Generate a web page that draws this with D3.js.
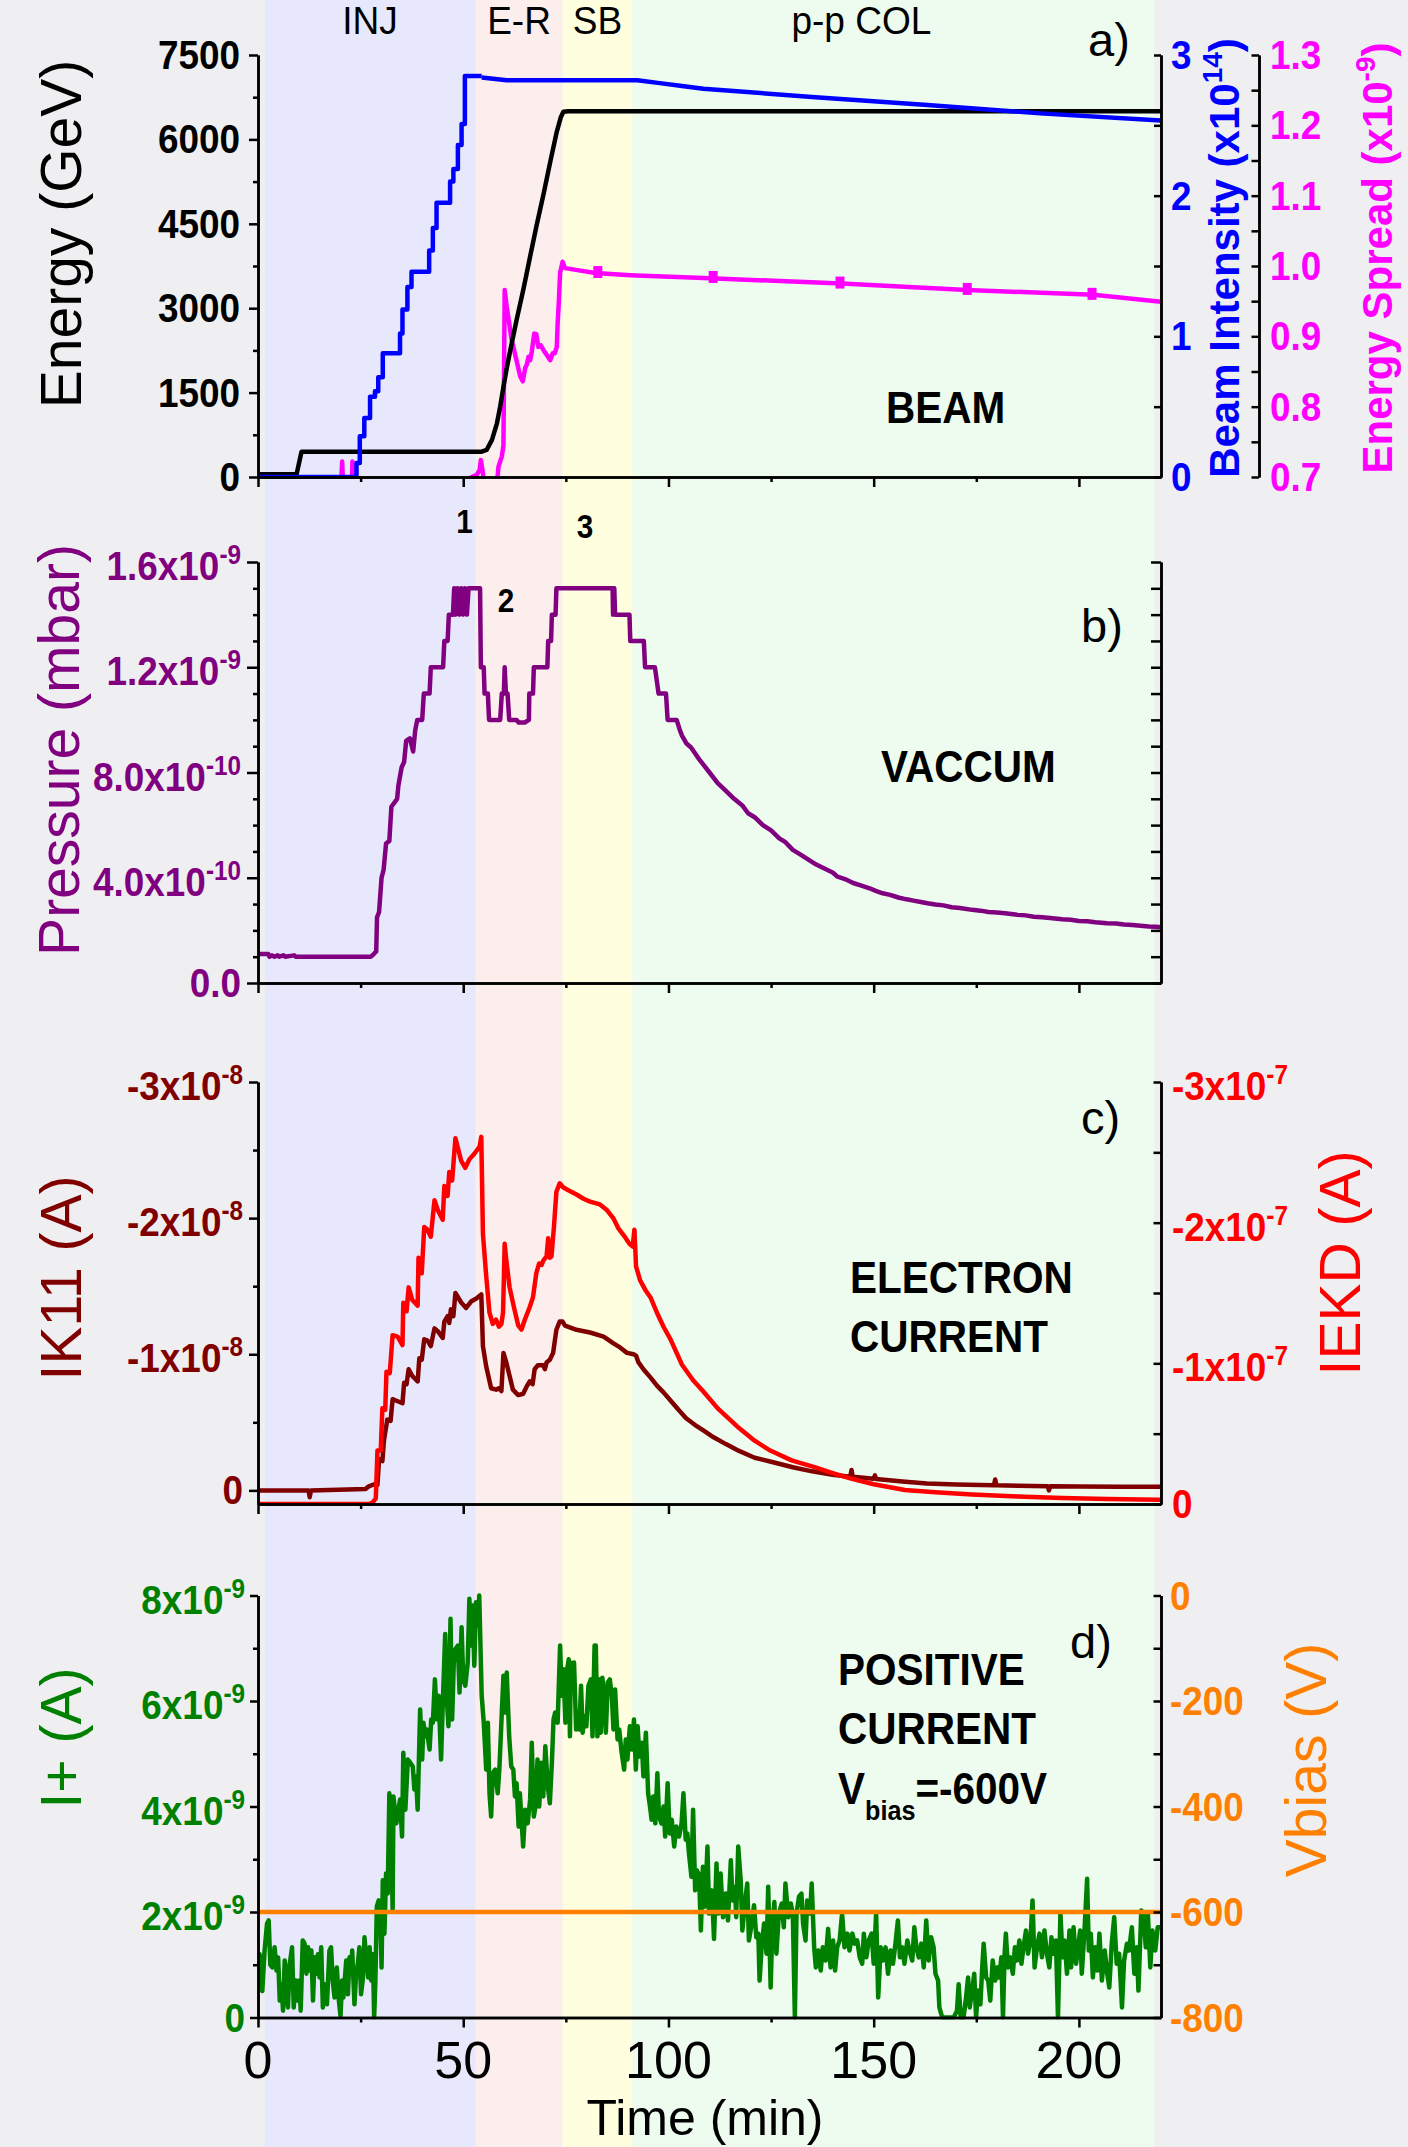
<!DOCTYPE html>
<html>
<head>
<meta charset="utf-8">
<script src="https://d3js.org/d3.v7.min.js"></script>
<style>
  body { margin: 0; background: #efeff1; }
  svg { display: block; font-family: "Liberation Sans", Arial, sans-serif; }
</style>
</head>
<body>
<div id="vis"></div>
<script>
// ---------- data ----------
// machine phases, minutes
const PHASE_NAMES = ["INJ", "E-R", "SB", "p-p COL"];
const PHASE_START = [1.7, 53.0, 74.2, 91.3];
const PHASE_END = [53.0, 74.2, 91.3, 218.4];
const PHASE_LABEL_T = [27.3, 63.6, 82.7, 147.0];
const PHASE_COLORS = ["#e8e8fc", "#fdeeee", "#ffffe0", "#edfcee"];

// a) beam energy, GeV
const energy = [[0,50],[9.4,50],[10.6,450],[54.5,450],[55.7,480],[57.0,660],[58.2,950],[59.0,1250],[59.8,1600],
  [60.6,1930],[61.4,2230],[63.0,2790],[64.7,3350],[66.3,3920],[67.9,4480],[69.6,5040],[71.2,5600],[72.8,6140],
  [73.8,6400],[74.4,6490],[75.6,6500],[220,6500]];
// a) beam intensity, x1e14 : injection steps then slow decay
const beamSteps = [[0,0],[24.0,0.10],[24.8,0.29],[25.9,0.42],[27.3,0.57],[28.5,0.61],[29.3,0.71],[30.4,0.88],
  [34.6,1.02],[35.2,1.19],[36.4,1.35],[37.4,1.46],[41.7,1.61],[42.6,1.77],[43.5,1.95],[46.8,2.10],[47.6,2.19],
  [48.7,2.36],[49.6,2.51],[50.4,2.85],[54.5,2.85]];
const beamDecay = [[54.5,2.84],[60.6,2.82],[92.4,2.82],[97.9,2.80],[103.3,2.78],[108.5,2.76],[135.8,2.70],
  [163.1,2.645],[190.5,2.585],[220,2.535]];
// a) energy spread, x1e-9 (values under 0.7 sit below the axis)
const spread = [[20.2,0.68],[20.5,0.722],[20.8,0.68],[22.8,0.68],[23.0,0.722],[23.3,0.68],[51.4,0.68],[51.7,0.699],
  [53.3,0.703],[54.0,0.71],[54.3,0.724],[54.8,0.705],[55.1,0.69],[58.2,0.69],[58.6,0.715],[59.4,0.729],[59.8,0.745],
  [60.1,0.966],[60.6,0.942],[61.8,0.895],[63.9,0.843],[64.5,0.836],[65.1,0.855],[65.5,0.86],[65.9,0.871],[66.3,0.866],
  [66.7,0.878],[67.3,0.904],[67.8,0.903],[68.3,0.885],[68.9,0.887],[69.6,0.88],[70.4,0.873],[71.2,0.866],[71.8,0.876],
  [72.3,0.876],[72.8,0.885],[73.0,0.918],[73.3,0.95],[73.6,0.99],[74.2,1.006],[74.8,0.997],[82.2,0.99],[90.7,0.987],
  [108.5,0.983],[142.2,0.975],[172.7,0.966],[203.6,0.959],[220,0.949]];
const spreadMarks = [[82.8,0.990],[110.9,0.983],[141.8,0.975],[172.8,0.966],[203.2,0.959]];

// b) pressure, x1e-10 mbar
const pressure = [[0,1.1],[2.5,1.1],[2.8,1.0],[3.4,1.05],[4.0,1.0],[4.8,1.05],[5.2,1.0],[6.2,1.05],[6.6,1.0],
  [8.8,1.05],[9.2,1.0],[27.5,1.0],[28.2,1.1],[28.8,1.2],[29.0,2.5],[29.5,2.7],[30.1,4.0],[30.6,4.3],[31.2,5.3],
  [32.0,5.4],[32.5,6.7],[33.9,7.0],[34.2,7.5],[35.0,8.2],[35.6,8.4],[36.1,9.2],[37.0,9.3],[37.8,8.8],[38.3,9.6],
  [38.8,10.0],[40.0,10.0],[40.4,11.0],[41.8,11.0],[42.1,12.0],[45.1,12.0],[45.4,13.0],[46.2,13.0],[46.5,14.0],
  [47.5,14.0],[47.8,15.0],[48.2,14.0],[48.6,15.0],[49.1,14.0],[49.5,15.0],[50.0,14.0],[50.4,15.0],[50.9,14.0],
  [51.3,15.0],[54.1,15.0],[54.3,12.0],[55.0,12.0],[55.2,11.0],[56.0,11.0],[56.3,10.0],
  [59.0,10.0],[59.4,11.0],[59.9,11.0],[60.1,12.0],[60.4,11.0],[60.8,11.0],[61.2,10.0],[63.0,10.0],[63.5,9.9],
  [65.0,9.9],[66.0,10.0],[66.1,11.0],[67.0,11.0],[67.2,12.0],[70.5,12.0],[70.7,13.0],[71.4,13.0],[71.6,14.0],
  [72.5,14.0],[72.7,15.0],[86.4,15.0],[86.5,14.0],[86.8,15.0],[87.0,14.0],[90.5,14.0],[90.7,13.0],[94.0,13.0],
  [94.3,12.0],[96.7,12.0],[97.6,11.0],[99.4,11.0],[99.8,10.0],[102.0,10.0],[102.8,9.6],[103.3,9.4],[104.4,9.1],
  [105.5,8.95],[106.6,8.7],[107.5,8.5],[108.5,8.3],[110,8.0],[112,7.6],[114,7.3],[116,7.0],[118,6.75],[119.4,6.45],
  [121,6.3],[123,6.0],[125,5.8],[127,5.5],[128.5,5.35],[130.3,5.06],[132,4.9],[134,4.7],[136,4.5],[138,4.35],
  [140,4.2],[141.2,4.04],[143,3.95],[145,3.8],[147,3.7],[149,3.6],[150.5,3.5],[152.2,3.41],[154,3.35],[156,3.25],
  [158,3.18],[160,3.12],[161.5,3.08],[163.1,3.03],[165,2.98],[167,2.95],[169,2.88],[171,2.85],[174,2.78],[176,2.75],
  [178,2.7],[180,2.68],[182,2.65],[185,2.59],[187,2.57],[189,2.52],[191,2.5],[193,2.47],[195.9,2.42],[198,2.4],
  [200,2.36],[202,2.35],[204,2.31],[206.8,2.27],[209,2.26],[211,2.22],[213,2.2],[215,2.18],[217,2.15],[218.8,2.14],[220,2.12]];

// c) IK11 current, x1e-8 A
const ik11 = [[0,0],[12.3,0],[12.6,0.05],[12.9,0],[26.2,-0.01],[27.0,-0.03],[28.3,-0.045],[29.1,-0.04],[29.5,-0.23],
  [30.3,-0.215],[30.7,-0.37],[31.5,-0.52],[32.3,-0.51],[32.8,-0.67],[33.6,-0.66],[35.2,-0.64],[35.6,-0.79],[36.2,-0.78],
  [36.7,-0.89],[37.6,-0.84],[38.9,-0.80],[39.3,-0.97],[39.9,-0.96],[40.5,-1.11],[41.3,-1.10],[42.1,-1.06],[43.0,-1.19],
  [43.8,-1.17],[45.0,-1.12],[45.4,-1.24],[46.2,-1.28],[46.6,-1.23],[47.0,-1.33],[47.6,-1.28],[48.1,-1.45],[49.5,-1.38],
  [50.7,-1.34],[52.0,-1.39],[53.2,-1.41],[54.4,-1.44],[54.8,-1.06],[55.6,-0.91],[56.8,-0.75],[58.0,-0.74],[58.7,-0.75],
  [59.3,-0.73],[59.8,-1.01],[60.5,-0.94],[61.3,-0.84],[62.1,-0.74],[63.4,-0.70],[64.6,-0.71],[65.4,-0.76],[66.2,-0.80],
  [66.9,-0.78],[67.4,-0.89],[68.2,-0.92],[69.5,-0.92],[69.9,-0.89],[70.3,-0.94],[71.1,-0.96],[71.9,-1.01],[72.7,-1.18],
  [73.5,-1.24],[74.2,-1.24],[74.8,-1.21],[77.6,-1.18],[80.9,-1.16],[84.2,-1.13],[86.6,-1.08],[88.2,-1.05],[89.9,-1.01],
  [91.5,-1.0],[92.1,-0.99],[92.7,-0.94],[93.9,-0.89],[95.6,-0.83],[97.2,-0.77],[98.8,-0.72],[100.5,-0.66],[102.5,-0.59],
  [104.3,-0.53],[106.5,-0.48],[108.5,-0.44],[111,-0.39],[114,-0.34],[117.2,-0.29],[121,-0.24],[125,-0.21],[130.3,-0.17],
  [135,-0.14],[140,-0.115],[144.3,-0.10],[144.6,-0.15],[144.9,-0.10],[150,-0.085],[150.3,-0.11],[150.6,-0.083],
  [157,-0.065],[163,-0.05],[170,-0.043],[179.3,-0.037],[179.6,-0.08],[179.9,-0.037],[185,-0.034],[192.4,-0.031],
  [192.7,0.0],[193.0,-0.031],[200,-0.029],[210,-0.027],[220,-0.026]];
// c) IEKD current, x1e-7 A
const iekd = [[0,0],[27.0,0],[27.9,-0.01],[28.7,-0.04],[29.1,-0.38],[29.9,-0.38],[30.3,-0.68],[31.0,-0.67],[31.3,-0.94],
  [32.1,-0.93],[32.8,-1.20],[34.0,-1.19],[35.2,-1.13],[35.4,-1.43],[36.2,-1.37],[36.7,-1.54],[37.6,-1.45],[38.9,-1.41],
  [39.1,-1.75],[39.9,-1.64],[40.5,-1.97],[41.3,-1.95],[42.1,-1.90],[43.0,-2.16],[43.8,-2.09],[45.0,-2.02],[45.4,-2.26],
  [46.2,-2.19],[46.6,-2.36],[47.3,-2.30],[48.1,-2.60],[49.5,-2.44],[50.5,-2.39],[51.5,-2.45],[52.7,-2.49],[54.0,-2.54],
  [54.4,-2.61],[54.8,-1.92],[55.6,-1.62],[56.4,-1.36],[57.2,-1.28],[58.0,-1.31],[58.7,-1.26],[59.3,-1.28],[59.7,-1.36],
  [60.1,-1.85],[60.5,-1.73],[61.3,-1.54],[62.5,-1.38],[63.4,-1.27],[64.2,-1.24],[65.0,-1.31],[66.2,-1.40],[67.0,-1.47],
  [67.8,-1.64],[68.5,-1.71],[69.1,-1.70],[69.5,-1.73],[70.3,-1.76],[70.7,-1.89],[71.1,-1.75],[71.5,-1.76],[72.1,-1.97],
  [72.7,-2.22],[73.5,-2.28],[74.4,-2.25],[75.6,-2.23],[77.6,-2.20],[79.3,-2.17],[80.9,-2.15],[83.3,-2.13],[85.0,-2.09],
  [86.6,-2.03],[87.8,-1.96],[89.1,-1.91],[90.5,-1.85],[91.3,-1.83],[91.7,-1.95],[91.9,-1.83],[92.1,-1.69],[93.1,-1.59],
  [94.4,-1.52],[95.6,-1.47],[97.2,-1.36],[98.8,-1.26],[100.5,-1.17],[103.3,-0.99],[106,-0.88],[108.5,-0.80],[112,-0.68],
  [117.2,-0.54],[121,-0.45],[124.8,-0.38],[130,-0.31],[135.8,-0.26],[140,-0.22],[144.5,-0.18],[150,-0.14],[157.6,-0.10],
  [165,-0.083],[174,-0.067],[185,-0.054],[195.9,-0.043],[207,-0.036],[219.4,-0.03],[220,-0.03]];

// d) positive current, x1e-9 A
const iplus = [[0,0.63],[0.4,1.2],[1.05,0.5],[1.6,1.27],[2.2,1.78],[2.6,1.84],[3.0,1.0],[3.5,0.95],[4.05,1.33],[4.5,0.89],
  [4.9,1.14],[5.3,0.32],[5.7,0.63],[6.1,0.13],[6.5,1.08],[6.9,0.7],[7.3,0.19],[7.7,1.0],[8.3,1.33],[8.7,0.19],[9.2,0.7],
  [9.7,0.32],[10.1,0.7],[10.4,0.13],[10.9,1.46],[11.35,1.4],[11.8,0.83],[12.2,1.33],[12.6,0.89],[13.0,1.27],[13.4,0.32],
  [13.8,1.14],[14.2,0.83],[14.6,1.2],[15.0,0.76],[15.4,1.33],[15.8,0.19],[16.2,0.63],[16.8,0.25],[17.4,1.27],[17.8,1.33],
  [18.2,0.7],[18.65,0.38],[19.2,0.95],[19.7,0.32],[20.1,0.03],[20.5,0.7],[20.8,0.38],[21.5,1.08],[21.9,0.44],[22.3,1.14],
  [22.7,0.83],[22.95,1.27],[23.5,0.25],[23.9,0.83],[24.3,1.0],[24.7,1.33],[25.1,0.44],[25.5,0.7],[25.95,1.52],[26.35,1.14],
  [26.8,0.76],[27.2,1.33],[27.6,0.7],[28.0,1.2],[28.3,0.0],[28.6,0.7],[28.95,2.1],[29.4,2.22],[29.8,1.97],[30.1,0.95],
  [30.4,2.6],[30.8,1.59],[31.2,2.73],[31.6,2.35],[32.0,4.25],[32.4,3.75],[32.8,2.03],[33.0,4.19],[33.7,3.68],[34.1,3.87],
  [34.6,4.13],[35.1,3.43],[35.4,5.02],[35.9,3.94],[36.5,4.89],[37.1,4.83],[37.7,4.76],[38.1,4.32],[38.5,4.57],[38.9,3.94],
  [39.5,5.84],[40.0,4.89],[40.3,5.59],[40.8,5.33],[41.1,5.46],[41.8,5.08],[42.2,5.65],[42.6,5.59],[43.1,6.41],[43.6,5.65],
  [44.0,6.1],[44.6,4.89],[45.0,5.9],[45.6,7.27],[46.0,6.03],[46.4,5.52],[46.9,7.56],[47.3,5.65],[47.7,6.73],[48.1,6.98],
  [48.7,7.05],[49.1,6.16],[49.6,7.4],[50.0,6.41],[50.5,6.29],[51.1,6.73],[51.5,7.94],[51.9,7.05],[52.3,7.81],[52.7,6.67],
  [53.1,7.87],[53.5,7.43],[53.9,8.0],[54.5,6.1],[55.0,5.59],[55.6,4.7],[56.0,5.59],[56.4,4.25],[56.8,3.81],[57.2,4.63],
  [57.8,4.7],[58.4,4.25],[58.8,4.7],[59.4,5.78],[59.8,6.48],[60.3,5.78],[60.6,6.54],[61.2,5.33],[61.7,4.76],[62.2,4.7],
  [62.6,4.19],[63.0,4.44],[63.5,3.62],[63.8,4.25],[64.2,3.75],[64.6,3.24],[65.1,3.94],[65.7,3.68],[66.3,4.13],[66.7,5.21],
  [67.2,3.81],[67.6,4.0],[68.1,4.89],[68.5,4.0],[69.1,4.83],[69.5,4.19],[70.0,5.14],[70.6,4.38],[71.1,4.06],[71.6,4.83],
  [72.0,5.65],[72.4,5.78],[73.0,5.59],[73.6,7.05],[74.0,6.1],[74.4,6.6],[74.9,5.59],[75.2,6.54],[75.7,6.79],[76.0,5.33],
  [76.2,6.73],[76.6,6.29],[77.0,6.73],[77.5,5.46],[77.9,5.78],[78.3,5.46],[78.7,6.29],[79.1,5.4],[79.5,5.71],[80.0,5.52],
  [80.5,6.29],[81.1,6.41],[81.5,5.33],[82.0,7.05],[82.3,7.05],[82.7,5.33],[83.1,6.41],[83.5,5.4],[83.9,6.44],[84.3,6.1],
  [84.75,5.4],[85.2,6.35],[85.7,6.41],[86.2,6.1],[86.6,5.46],[87.0,6.22],[87.6,5.27],[88.0,5.46],[88.6,5.02],[89.2,4.7],
  [89.6,5.27],[90.0,4.89],[90.6,5.52],[91.1,5.08],[91.6,5.65],[92.05,4.7],[92.5,5.52],[92.9,4.95],[93.5,5.21],[93.9,4.57],
  [94.5,5.4],[95.05,4.25],[95.5,4.0],[95.9,3.75],[96.3,4.19],[96.8,3.68],[97.3,4.63],[97.7,3.81],[98.3,3.68],[98.8,4.0],
  [99.2,3.43],[99.8,4.44],[100.3,3.49],[100.8,3.75],[101.4,3.24],[101.9,3.62],[102.6,3.43],[103.2,3.68],[103.65,4.25],
  [104.2,3.37],[104.6,3.49],[105.0,3.11],[105.6,2.67],[106.0,3.94],[106.5,2.41],[106.9,2.79],[107.3,2.73],[107.5,2.6],
  [107.9,1.65],[108.4,2.86],[108.9,2.1],[109.5,3.24],[109.9,1.97],[110.6,2.41],[111.1,1.49],[111.7,2.92],[112.2,1.97],
  [112.7,2.73],[113.3,1.9],[113.96,2.35],[114.5,1.84],[115.2,2.98],[115.6,2.22],[116.2,2.48],[116.5,1.9],[117.0,3.24],
  [117.6,2.6],[118.0,1.65],[118.7,2.22],[119.2,2.54],[119.6,1.46],[120.3,1.78],[120.85,2.13],[121.4,1.52],[121.9,1.59],
  [122.2,0.7],[122.7,1.33],[123.3,1.78],[123.9,1.21],[124.3,2.48],[124.9,0.57],[125.3,1.71],[125.8,2.19],[126.3,1.21],
  [126.9,1.97],[127.6,2.16],[128.1,1.71],[128.5,2.54],[129.2,1.9],[129.8,2.16],[130.3,1.97],[130.8,0],[131.2,1.97],
  [131.8,2.29],[132.4,2.35],[132.8,1.78],[133.4,1.46],[133.8,2.22],[134.5,1.97],[134.9,2.54],[135.5,1.33],[135.9,0.95],
  [136.5,1.27],[137.1,0.89],[137.6,1.33],[138.3,1.08],[138.9,1.68],[139.5,0.95],[140.1,1.46],[140.6,0.89],[141.1,1.33],
  [141.7,1.46],[142.3,1.97],[142.9,1.33],[143.6,1.59],[144.1,1.27],[144.8,1.59],[145.4,1.4],[146.0,1.46],[146.6,1.14],
  [147.2,1.02],[147.6,1.59],[148.2,1.14],[148.8,1.46],[149.5,1.59],[150.0,1.02],[150.6,1.97],[151.1,0.38],[151.7,1.33],
  [152.2,1.08],[152.9,1.33],[153.5,0.83],[154.1,1.27],[154.7,1.02],[155.3,1.4],[155.9,1.84],[156.4,1.14],[157.0,1.33],
  [157.5,1.02],[158.2,1.46],[158.7,1.27],[159.4,1.08],[159.9,1.71],[160.4,1.33],[161.0,1.14],[161.6,1.4],[162.2,0.95],
  [162.8,1.84],[163.4,1.08],[164.0,1.52],[164.6,1.33],[165.05,0.83],[165.7,0.7],[166.0,0.19],[166.7,0],[168.3,0],
  [169.5,0],[170.3,0.13],[170.7,0.63],[171.2,0],[171.9,0],[172.5,0.38],[173.0,0.76],[173.4,0.19],[174.0,0.51],[174.5,0.83],
  [174.95,0],[175.4,0.51],[176.0,0.25],[176.4,0.89],[176.8,1.4],[177.4,0.76],[177.9,0.7],[178.4,0.32],[179.0,1.08],
  [179.6,0.7],[180.2,0.95],[180.6,0.76],[181.1,1.14],[181.5,0],[181.9,1.21],[182.2,1.59],[182.7,0.95],[183.3,1.14],
  [183.9,0.83],[184.4,1.33],[184.9,1.08],[185.5,1.46],[186.0,1.02],[186.5,1.33],[187.1,1.65],[187.6,1.21],[188.2,1.46],
  [188.7,2.22],[189.2,0.95],[189.8,1.33],[190.4,1.59],[191.0,1.14],[191.6,1.65],[192.2,1.21],[192.8,0.95],[193.3,1.52],
  [193.85,1.21],[194.4,1.46],[194.9,0],[195.5,1.97],[196.0,1.14],[196.5,1.46],[197.1,0.83],[197.7,1.65],[198.1,0.95],
  [198.7,1.71],[199.3,1.02],[199.8,1.33],[200.3,1.65],[200.7,0.83],[201.4,1.71],[202.0,2.63],[202.4,1.27],[202.9,1.59],
  [203.4,0.76],[204.0,1.33],[204.5,0.89],[205.0,1.59],[205.6,0.7],[206.3,1.27],[206.8,0.89],[207.4,0.57],[208.0,1.4],
  [208.6,1.9],[209.2,1.02],[209.8,1.21],[210.5,0.19],[211.0,1.08],[211.7,1.4],[212.2,1.27],[212.9,1.71],[213.5,0.83],
  [214.1,1.33],[214.5,0.51],[215.2,2.03],[215.7,1.97],[216.3,1.33],[216.8,1.97],[217.4,0.95],[217.9,1.65],[218.6,1.27],
  [219.2,1.71],[219.8,1.71]];
// d) bias voltage, V
const vbias = [[0,-600],[220,-600]];

// tick values and labels
const TIME_TICKS = [0, 50, 100, 150, 200];
const TIME_MINOR = [25, 75, 125, 175];
const E_TICKS = [0, 1500, 3000, 4500, 6000, 7500];
const BEAM_TICKS = [0, 1, 2, 3];
const SPREAD_TICKS = [0.7, 0.8, 0.9, 1.0, 1.1, 1.2, 1.3];
const SPREAD_LABELS = ["0.7", "0.8", "0.9", "1.0", "1.1", "1.2", "1.3"];
const P_TICKS = [0, 4, 8, 12, 16];
const P_LABELS = [["0.0", ""], ["4.0x10", "-10"], ["8.0x10", "-10"], ["1.2x10", "-9"], ["1.6x10", "-9"]];
const IK_TICKS = [0, -1, -2, -3];
const IK_LABELS = [["0", ""], ["-1x10", "-8"], ["-2x10", "-8"], ["-3x10", "-8"]];
const EKD_TICKS = [0, -1, -2, -3];
const EKD_LABELS = [["0", ""], ["-1x10", "-7"], ["-2x10", "-7"], ["-3x10", "-7"]];
const IP_TICKS = [0, 2, 4, 6, 8];
const IP_LABELS = [["0", ""], ["2x10", "-9"], ["4x10", "-9"], ["6x10", "-9"], ["8x10", "-9"]];
const V_TICKS = [0, -200, -400, -600, -800];

// ---------- layout ----------
const WIDTH = 1408;
const HEIGHT = 2147;
const X_LEFT = 258, X_RIGHT = 1161;
const PA = {top: 55, bottom: 477};
const PB = {top: 562, bottom: 983};
const PC = {top: 1082, bottom: 1504};
const PD = {top: 1595.5, bottom: 2017.5};
const SX = 0.9;           // bold labels look slightly condensed
const TICK_FONT = 41;
const LINE_W = 4.5;

const FRAME = d3.select("#vis")
  .append("svg")
    .attr("width", WIDTH)
    .attr("height", HEIGHT);

FRAME.append("rect").attr("width", WIDTH).attr("height", HEIGHT).attr("fill", "#efeff1");

// scales
const X_SCALE = d3.scaleLinear().domain([0, 220]).range([X_LEFT, X_RIGHT]);
const Y_E = d3.scaleLinear().domain([0, 7500]).range([PA.bottom, PA.top]);
const Y_BEAM = d3.scaleLinear().domain([0, 3]).range([PA.bottom, PA.top]);
const Y_SPREAD = d3.scaleLinear().domain([0.7, 1.3]).range([PA.bottom, PA.top]);
const Y_P = d3.scaleLinear().domain([0, 16]).range([PB.bottom, PB.top]);
const Y_IK = d3.scaleLinear().domain([0.1, -3]).range([PC.bottom, PC.top]);
const Y_EKD = d3.scaleLinear().domain([0, -3]).range([PC.bottom, PC.top]);
const Y_IP = d3.scaleLinear().domain([0, 8]).range([PD.bottom, PD.top]);
const Y_V = d3.scaleLinear().domain([-800, 0]).range([PD.bottom, PD.top]);

// phase bands run the whole height
FRAME.selectAll(".band")
  .data(PHASE_NAMES)
  .enter().append("rect")
    .attr("class", "band")
    .attr("x", (d, i) => X_SCALE(PHASE_START[i]))
    .attr("width", (d, i) => X_SCALE(PHASE_END[i]) - X_SCALE(PHASE_START[i]))
    .attr("y", 0)
    .attr("height", HEIGHT)
    .attr("fill", (d, i) => PHASE_COLORS[i]);

// clip each panel
const DEFS = FRAME.append("defs");
[PA, PB, PC, PD].forEach((p, i) => {
  DEFS.append("clipPath").attr("id", "clip" + i)
    .append("rect")
      .attr("x", X_LEFT).attr("y", p.top - 4)
      .attr("width", X_RIGHT - X_LEFT).attr("height", p.bottom - p.top + 6);
});

function drawLine(data, yScale, color, clip, curve) {
  const line = d3.line()
    .x(d => X_SCALE(d[0]))
    .y(d => yScale(d[1]))
    .curve(curve || d3.curveLinear);
  FRAME.append("path")
    .datum(data)
    .attr("clip-path", "url(#clip" + clip + ")")
    .attr("d", line)
    .attr("fill", "none")
    .attr("stroke", color)
    .attr("stroke-width", LINE_W)
    .attr("stroke-linejoin", "round");
}

// panel a
drawLine(spread, Y_SPREAD, "#ff00ff", 0);
FRAME.selectAll(".smark")
  .data(spreadMarks)
  .enter().append("rect")
    .attr("class", "smark")
    .attr("x", d => X_SCALE(d[0]) - 4.5)
    .attr("y", d => Y_SPREAD(d[1]) - 7)
    .attr("width", 9).attr("height", 12)
    .attr("fill", "#ff00ff");
drawLine(energy, Y_E, "#000000", 0);
drawLine(beamSteps, Y_BEAM, "#0000ff", 0, d3.curveStepAfter);
drawLine(beamDecay, Y_BEAM, "#0000ff", 0);
// panel b
drawLine(pressure, Y_P, "#800080", 1);
// panel c
drawLine(ik11, Y_IK, "#800000", 2);
drawLine(iekd, Y_EKD, "#ff0000", 2);
// panel d
drawLine(iplus, Y_IP, "#008000", 3);
drawLine(vbias, Y_V, "#ff8000", 3);

// ---------- axes ----------
function styleAxis(g) {
  g.attr("color", "#000");
  g.selectAll("path, line").attr("stroke-width", 2.5);
}
function yAxis(scale, x, majors, minors, majLen, minLen) {
  const g = FRAME.append("g").attr("transform", "translate(" + x + ",0)");
  g.call(d3.axisLeft(scale).tickValues(majors).tickSize(majLen).tickSizeOuter(0).tickFormat(""));
  g.append("g").call(d3.axisLeft(scale).tickValues(minors).tickSize(minLen).tickSizeOuter(0).tickFormat(""));
  styleAxis(g);
}
function xAxis(y) {
  const g = FRAME.append("g").attr("transform", "translate(0," + y + ")");
  g.call(d3.axisBottom(X_SCALE).tickValues(TIME_TICKS).tickSize(10).tickSizeOuter(0).tickFormat(""));
  g.append("g").call(d3.axisBottom(X_SCALE).tickValues(TIME_MINOR).tickSize(5).tickSizeOuter(0).tickFormat(""));
  styleAxis(g);
}
const range = (a, b, s) => d3.range(a, b + s / 2, s);

[PA, PB, PC, PD].forEach(p => xAxis(p.bottom));
// a
yAxis(Y_E, X_LEFT, E_TICKS, range(750, 6750, 1500), 9, 5);
yAxis(Y_BEAM, X_RIGHT, range(0, 3, 0.5), [], 7, 7);
yAxis(Y_SPREAD, 1259, range(0.7, 1.3, 0.05), [], 7.5, 7.5);
// b
yAxis(Y_P, X_LEFT, P_TICKS, range(1, 15, 1).filter(v => v % 4), 11, 5);
yAxis(Y_P, X_RIGHT, range(0, 16, 1), [], 10, 10);
// c
yAxis(Y_IK, X_LEFT, IK_TICKS, [-0.5, -1.5, -2.5], 9, 5);
yAxis(Y_EKD, X_RIGHT, range(-3, 0, 0.5), [], 7.5, 7.5);
// d
yAxis(Y_IP, X_LEFT, IP_TICKS, [1, 3, 5, 7], 8, 5);
yAxis(Y_V, X_RIGHT, range(-800, 0, 100), [], 7.5, 7.5);

// ---------- text helpers ----------
function addText(x, y, str, size, opts) {
  opts = opts || {};
  const t = FRAME.append("text")
    .attr("transform", "translate(" + x + "," + y + ")" +
      (opts.rotate ? " rotate(-90)" : " scale(" + (opts.sx || 1) + ",1)"))
    .attr("font-size", size)
    .attr("font-weight", opts.bold ? "bold" : "normal")
    .attr("fill", opts.color || "#000")
    .attr("text-anchor", opts.anchor || "start");
  if (str !== null) t.text(str);
  return t;
}
function sciLabel(x, y, base, sup, color, anchor) {
  const t = addText(x, y + (sup ? 18 : 14), null, TICK_FONT, {bold: true, sx: SX, color: color, anchor: anchor});
  t.append("tspan").text(base);
  if (sup) t.append("tspan").attr("font-size", 27).attr("dy", -16).text(sup);
}

// tick labels
E_TICKS.forEach(v => sciLabel(240, Y_E(v), String(v), "", "#000", "end"));
BEAM_TICKS.forEach(v => sciLabel(1171, Y_BEAM(v), String(v), "", "#0000ff", "start"));
SPREAD_TICKS.forEach((v, i) => sciLabel(1270, Y_SPREAD(v), SPREAD_LABELS[i], "", "#ff00ff", "start"));
P_TICKS.forEach((v, i) => sciLabel(241, Y_P(v), P_LABELS[i][0], P_LABELS[i][1], "#800080", "end"));
IK_TICKS.forEach((v, i) => sciLabel(243, Y_IK(v), IK_LABELS[i][0], IK_LABELS[i][1], "#800000", "end"));
EKD_TICKS.forEach((v, i) => sciLabel(1172, Y_EKD(v), EKD_LABELS[i][0], EKD_LABELS[i][1], "#ff0000", "start"));
IP_TICKS.forEach((v, i) => sciLabel(245, Y_IP(v), IP_LABELS[i][0], IP_LABELS[i][1], "#008000", "end"));
V_TICKS.forEach(v => sciLabel(1170, Y_V(v), String(v), "", "#ff8000", "start"));
TIME_TICKS.forEach(v => addText(X_SCALE(v), 2078, String(v), 52, {anchor: "middle"}));
addText(705, 2135, "Time (min)", 50, {anchor: "middle"});

// axis titles
addText(81, 234, "Energy (GeV)", 57, {rotate: true, anchor: "middle"});
addText(79, 750, "Pressure (mbar)", 57, {rotate: true, anchor: "middle", color: "#800080"});
addText(81, 1278, "IK11 (A)", 57, {rotate: true, anchor: "middle", color: "#800000"});
addText(81, 1738, "I+ (A)", 57, {rotate: true, anchor: "middle", color: "#008000"});
addText(1360, 1263, "IEKD (A)", 57, {rotate: true, anchor: "middle", color: "#ff0000"});
addText(1326, 1760, "Vbias (V)", 57, {rotate: true, anchor: "middle", color: "#ff8000"});
let t = addText(1239, 258, null, 42, {rotate: true, anchor: "middle", bold: true, color: "#0000ff"});
t.append("tspan").text("Beam Intensity (x10");
t.append("tspan").attr("font-size", 28).attr("dy", -17).text("14");
t.append("tspan").attr("dy", 17).text(")");
t = addText(1392, 258, null, 42, {rotate: true, anchor: "middle", bold: true, color: "#ff00ff"});
t.append("tspan").text("Energy Spread (x10");
t.append("tspan").attr("font-size", 28).attr("dy", -17).text("-9");
t.append("tspan").attr("dy", 17).text(")");

// phase names
PHASE_NAMES.forEach((d, i) => addText(X_SCALE(PHASE_LABEL_T[i]), 34, d, 39, {anchor: "middle", sx: 0.95}));

// panel letters and captions
addText(1088, 56, "a)", 47);
addText(1081, 642, "b)", 47);
addText(1081, 1134, "c)", 47);
addText(1070, 1658, "d)", 47);
addText(886, 423, "BEAM", 45, {bold: true, sx: SX});
addText(881, 782, "VACCUM", 45, {bold: true, sx: SX});
addText(850, 1293, "ELECTRON", 45, {bold: true, sx: SX});
addText(850, 1352, "CURRENT", 45, {bold: true, sx: SX});
addText(838, 1685, "POSITIVE", 45, {bold: true, sx: SX});
addText(838, 1744, "CURRENT", 45, {bold: true, sx: SX});
t = addText(838, 1804, null, 45, {bold: true, sx: SX});
t.append("tspan").text("V");
t.append("tspan").attr("font-size", 28).attr("dy", 16).text("bias");
t.append("tspan").attr("dy", -16).text("=-600V");
addText(464.5, 533, "1", 33, {bold: true, anchor: "middle", sx: SX});
addText(506, 612, "2", 33, {bold: true, anchor: "middle", sx: SX});
addText(585, 538, "3", 33, {bold: true, anchor: "middle", sx: SX});
</script>
</body>
</html>
